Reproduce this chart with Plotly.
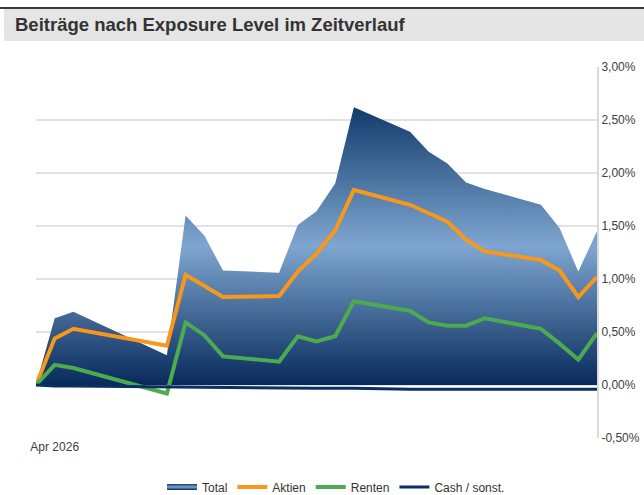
import plotly.graph_objects as go

# --- data (values in %) ---
dates = ["2026-03-31", "2026-04-01", "2026-04-02", "2026-04-07", "2026-04-08",
         "2026-04-09", "2026-04-10", "2026-04-13", "2026-04-14", "2026-04-15",
         "2026-04-16", "2026-04-17", "2026-04-20", "2026-04-21", "2026-04-22",
         "2026-04-23", "2026-04-24", "2026-04-27", "2026-04-28", "2026-04-29",
         "2026-04-30"]
total = [0.00, 0.63, 0.69, 0.28, 1.60, 1.41, 1.08, 1.06, 1.51, 1.64, 1.90,
         2.62, 2.39, 2.20, 2.09, 1.91, 1.85, 1.70, 1.48, 1.07, 1.45]
aktien = [0.00, 0.44, 0.53, 0.37, 1.04, 0.94, 0.83, 0.84, 1.07, 1.24, 1.46,
          1.84, 1.70, 1.62, 1.54, 1.37, 1.26, 1.18, 1.08, 0.83, 1.02]
renten = [0.00, 0.19, 0.16, -0.08, 0.59, 0.47, 0.27, 0.22, 0.46, 0.41, 0.46,
          0.79, 0.70, 0.59, 0.56, 0.56, 0.63, 0.53, 0.39, 0.24, 0.49]
cash = [0.00, -0.01, -0.01, -0.02, -0.02, -0.02, -0.02, -0.03, -0.03, -0.03,
        -0.03, -0.03, -0.04, -0.04, -0.04, -0.04, -0.04, -0.04, -0.04, -0.04,
        -0.04]

y_ticks = [-0.5, 0.0, 0.5, 1.0, 1.5, 2.0, 2.5, 3.0]
y_ticktext = ["-0,50%", "0,00%", "0,50%", "1,00%", "1,50%", "2,00%", "2,50%", "3,00%"]
x_ticks = ["2026-04-01"]
x_ticktext = ["Apr 2026"]

title = "Beiträge nach Exposure Level im Zeitverlauf"

# plot area in pixels (used for banner placement in paper coords)
W, H = 644, 495
L, R, T, B = 36, 47, 67, 57
pw, ph = W - L - R, H - T - B


def px_x(px):
    return (px - L) / pw


def px_y(py):
    return (H - B - py) / ph


fig = go.Figure()

fig.add_trace(go.Scatter(
    x=dates, y=total, name="Total", mode="none", fill="tozeroy",
    fillgradient=dict(
        type="vertical", start=0, stop=2.62,
        colorscale=[[0.0, "#072a5b"], [0.5, "#7ea6d0"], [1.0, "#123b6c"]],
    ),
))
fig.add_trace(go.Scatter(
    x=dates, y=aktien, name="Aktien", mode="lines",
    line=dict(color="#f7981d", width=4),
))
fig.add_trace(go.Scatter(
    x=dates, y=renten, name="Renten", mode="lines",
    line=dict(color="#4dab4f", width=4),
))
fig.add_trace(go.Scatter(
    x=dates, y=cash, name="Cash / sonst.", mode="lines",
    line=dict(color="#0b2f62", width=3),
))

# title banner
fig.add_shape(type="rect", xref="paper", yref="paper",
              x0=px_x(4), x1=px_x(W), y0=px_y(41), y1=px_y(9),
              fillcolor="#e5e5e5", line_width=0, layer="below")
fig.add_shape(type="line", xref="paper", yref="paper",
              x0=px_x(0), x1=px_x(W), y0=px_y(8), y1=px_y(8),
              line=dict(color="#3c3c3c", width=2))
fig.add_annotation(text=f"<b>{title}</b>", xref="paper", yref="paper",
                   x=px_x(13), y=px_y(24), xanchor="left", yanchor="middle",
                   showarrow=False,
                   font=dict(family="Arial, Liberation Sans", size=18.5, color="#333333"))

fig.update_layout(
    template="none",
    width=W, height=H,
    margin=dict(l=L, r=R, t=T, b=B, pad=0, autoexpand=False),
    paper_bgcolor="white", plot_bgcolor="white",
    font=dict(family="Arial, Liberation Sans", size=12, color="#404040"),
    showlegend=True,
    legend=dict(orientation="h", x=px_x(336), xanchor="center",
                y=px_y(487), yanchor="middle", font=dict(size=12, color="#333333"),
                traceorder="normal", bgcolor="rgba(0,0,0,0)"),
    hovermode=False,
)
fig.update_xaxes(
    type="date", range=[dates[0], dates[-1]],
    tickvals=x_ticks, ticktext=x_ticktext,
    showgrid=False, zeroline=False, showline=False, ticks="",
)
fig.update_yaxes(
    range=[-0.5, 3.0], side="right",
    tickvals=y_ticks, ticktext=y_ticktext,
    showgrid=True, gridcolor="#e2e2e2", gridwidth=2,
    zeroline=False, showline=True, linecolor="#dadada", linewidth=2,
    ticks="",
)

fig.write_html("out.html", config={"displayModeBar": False},
               post_script="document.body.style.margin='0';")
